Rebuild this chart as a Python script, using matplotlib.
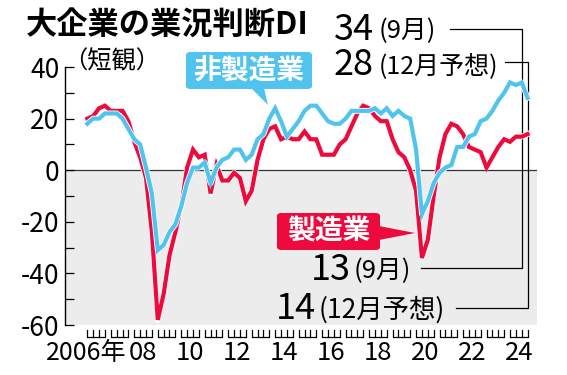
import numpy as np
import matplotlib
matplotlib.use("Agg")
import matplotlib.pyplot as plt
import matplotlib.transforms as mtransforms
from matplotlib.patches import Polygon, FancyBboxPatch
import matplotlib.patheffects as pe

# ---- data (quarterly, Mar 2006 .. Dec 2024; last value = forecast) ----
start_year = 2006
manufacturing = [20, 21, 24, 25, 23, 23, 23, 19, 11, 5, -3, -24,
                 -58, -48, -33, -24, -14, 1, 8, 5, 6, -9, 2, -4,
                 -4, -1, -3, -12, -8, 4, 12, 16, 17, 12, 13, 12,
                 12, 15, 12, 12, 6, 6, 6, 10, 12, 17, 22, 25,
                 24, 21, 19, 19, 12, 7, 5, 0, -8, -34, -27, -10,
                 5, 14, 18, 17, 14, 9, 8, 7, 1, 5, 9, 12,
                 11, 13, 13, 14]
non_manufacturing = [18, 20, 20, 22, 22, 22, 20, 16, 12, 10, 1, -9,
                     -31, -29, -24, -21, -14, -5, 1, 1, 3, -5, 1, 4,
                     5, 8, 8, 4, 6, 12, 14, 20, 24, 19, 13, 16,
                     19, 23, 25, 25, 22, 19, 18, 18, 20, 23, 23, 23,
                     23, 24, 22, 24, 21, 23, 21, 20, 8, -17, -12, -5,
                     -1, 1, 2, 9, 9, 13, 14, 19, 20, 23, 27, 30,
                     34, 33, 34, 28]
years = list(range(2006, 2025))
year_labels = ["2006年", "", "08", "", "10", "", "12", "", "14", "", "16", "",
               "18", "", "20", "", "22", "", "24"]
y_ticks = [40, 20, 0, -20, -40, -60]

RED = "#EE0A3C"
BLUE = "#50C4EF"
GRAY = "#ECECEC"
JP = "Noto Sans CJK JP"

W, H = 567, 375
fig = plt.figure(figsize=(W / 100, H / 100), dpi=100)
def P(x, y):
    return (x / W, 1 - y / H)

ax = fig.add_axes([65 / W, (H - 325) / H, (537 - 65) / W, (325 - 67) / H])
ax.set_xlim(2005.05, 2025.15)
ax.set_ylim(-60, 40)
ax.patch.set_alpha(0)

t = start_year + np.arange(len(manufacturing)) / 4.0

ax.axhspan(-60, 0, color=GRAY, zorder=0, lw=0)
ax.axhline(0, color="#333333", lw=0.9, zorder=1)

halo = [pe.Stroke(linewidth=4.2, foreground="white", joinstyle="round"), pe.Normal()]
ax.plot(t, manufacturing, color=RED, lw=3.0, zorder=4, solid_joinstyle="miter",
        path_effects=halo)
ax.plot(t, non_manufacturing, color=BLUE, lw=3.0, zorder=5, solid_joinstyle="miter",
        path_effects=halo)

# spines / y ticks
for s in ["top", "right", "bottom"]:
    ax.spines[s].set_visible(False)
ax.spines["left"].set_linewidth(1.0)
ax.set_yticks(np.arange(-60, 41, 10))
ax.set_yticklabels([str(v) if v in y_ticks else "" for v in np.arange(-60, 41, 10)],
                   family=JP, fontsize=19)
ax.tick_params(axis="y", direction="in", length=6.5, width=0.9, pad=4)
ax.set_xticks([])

# x-axis quarter tick groups and year labels
bt = mtransforms.blended_transform_factory(ax.transData, fig.transFigure)
y_top, y_bot = 1 - 330 / H, 1 - 337 / H
for yr, lab in zip(years, year_labels):
    xs = [yr + q / 4 for q in range(4)]
    ax.plot([xs[0], xs[-1]], [y_bot, y_bot], transform=bt, color="black",
            lw=0.9, clip_on=False, solid_capstyle="butt")
    for xv in xs:
        ax.plot([xv, xv], [y_top, y_bot], transform=bt, color="black",
                lw=0.9, clip_on=False)
    if lab:
        ax.text(yr + 0.375 if yr != 2006 else yr - 0.06, 1 - 353 / H, lab,
                transform=bt, ha="center", va="center", family=JP,
                fontsize=18 if yr == 2006 else 18.5)

# titles
fig.text(*P(26, 26), "大企業の業況判断DI", family=JP, fontweight="bold",
         fontsize=22.5, ha="left", va="center")
fig.text(*P(63, 61), "（短観）", family=JP, fontsize=17.5, ha="left", va="center")

# leader lines
t_sep = t[-2]
t_dec = t[-1]
def leader(x_left_top_px, x_data, y_top_px, y_bot_px, x_left_bot_px):
    inv = ax.transData.inverted()
    xl_top = inv.transform((x_left_top_px, 0))[0]
    xl_bot = inv.transform((x_left_bot_px, 0))[0]
    ax.plot([xl_top, x_data, x_data, xl_bot],
            [1 - y_top_px / H, 1 - y_top_px / H, 1 - y_bot_px / H, 1 - y_bot_px / H],
            transform=bt, color="black", lw=0.9, clip_on=False, zorder=3)

fig.canvas.draw()
leader(450, t_sep, 29, 268, 421)
leader(505, t_dec, 62, 308, 456)

# value annotations
def value_label(num, unit, x_num_left, y_c, x_unit_left, num_fs, unit_fs):
    fig.text(*P(x_num_left, y_c), num, family=JP, fontsize=num_fs, ha="left", va="center")
    fig.text(*P(x_unit_left, y_c + 1), unit, family=JP, fontsize=unit_fs,
             ha="left", va="center")

value_label("34", "(9月)", 334, 30, 379, 26, 18.5)
value_label("28", "(12月予想)", 334, 65, 379, 26, 18)
value_label("13", "(9月)", 311, 270, 354, 26, 18.5)
value_label("14", "(12月予想)", 276, 309, 319, 26, 19)

# callout: non-manufacturing
box = FancyBboxPatch(P(186, 89), (312 - 186) / W, (89 - 52) / H,
                     boxstyle="round,pad=0,rounding_size=0.008",
                     transform=fig.transFigure, fc=BLUE, ec="none", zorder=6)
fig.add_artist(box)
fig.add_artist(Polygon([P(251, 88), P(264, 88), P(268, 105)], closed=True,
                       transform=fig.transFigure, fc=BLUE, ec="none", zorder=6))
fig.text(*P(249, 71), "非製造業", family=JP, fontweight="bold", fontsize=20,
         color="white", ha="center", va="center", zorder=7)

# callout: manufacturing
box2 = FancyBboxPatch(P(277, 250), (380 - 277) / W, (250 - 213) / H,
                      boxstyle="round,pad=0,rounding_size=0.008",
                      transform=fig.transFigure, fc=RED, ec="none", zorder=6)
fig.add_artist(box2)
fig.add_artist(Polygon([P(379, 226), P(379, 240), P(415, 233)], closed=True,
                       transform=fig.transFigure, fc=RED, ec="none", zorder=6))
fig.text(*P(328.5, 232), "製造業", family=JP, fontweight="bold", fontsize=20,
         color="white", ha="center", va="center", zorder=7)

fig.savefig("out.png", dpi=100)
